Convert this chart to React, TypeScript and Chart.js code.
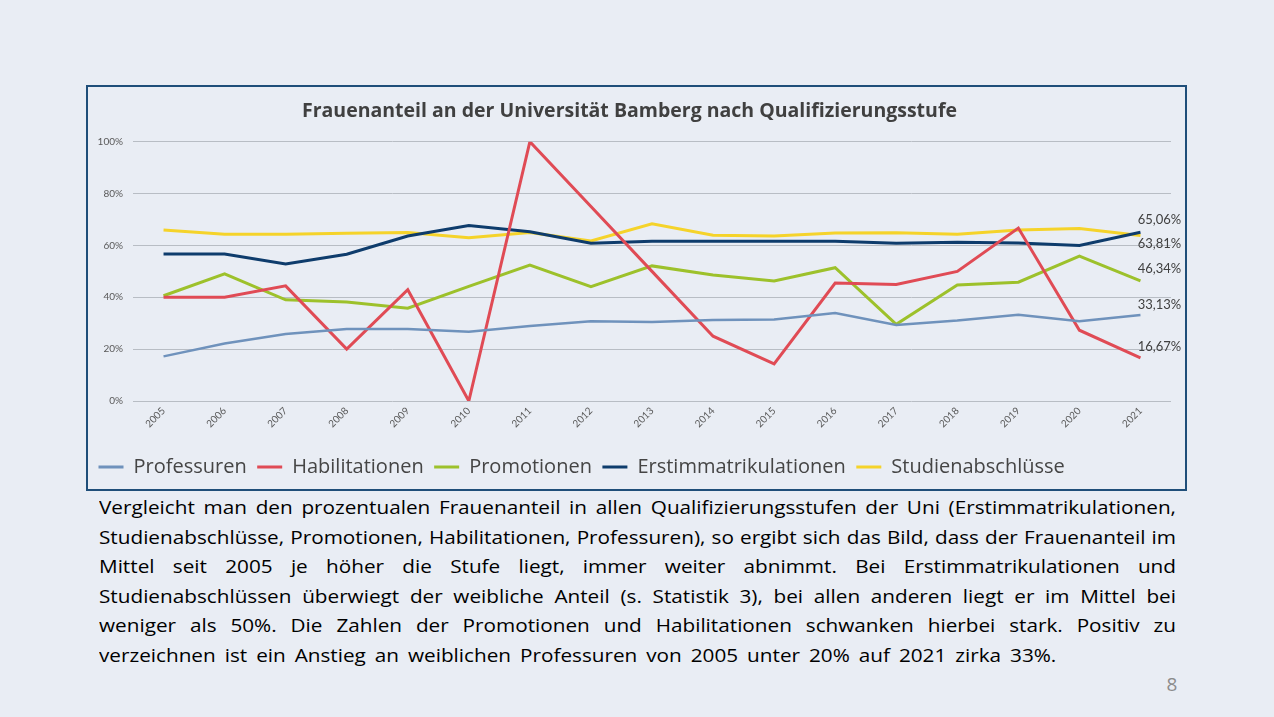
import React, { useEffect, useRef } from "react";
import { Chart, registerables } from "chart.js";

Chart.register(...registerables);

const years = ["2005", "2006", "2007", "2008", "2009", "2010", "2011", "2012", "2013", "2014", "2015", "2016", "2017", "2018", "2019", "2020", "2021"];
const professuren = [17.2, 22.2, 25.8, 27.8, 27.8, 26.7, 28.9, 30.8, 30.5, 31.2, 31.4, 33.9, 29.3, 31.0, 33.3, 30.8, 33.13];
const habilitationen = [40.0, 40.0, 44.4, 20.0, 42.9, 0.0, 100.0, 75.0, 50.0, 25.0, 14.3, 45.5, 44.9, 50.0, 66.7, 27.3, 16.67];
const promotionen = [40.6, 49.0, 39.0, 38.2, 35.8, 44.2, 52.4, 44.1, 52.1, 48.6, 46.3, 51.4, 29.6, 44.7, 45.8, 55.9, 46.34];
const erstimmatrikulationen = [56.7, 56.7, 52.8, 56.6, 63.6, 67.7, 65.3, 60.8, 61.6, 61.6, 61.6, 61.6, 60.8, 61.2, 60.9, 60.0, 65.06];
const studienabschluesse = [65.9, 64.3, 64.3, 64.7, 65.0, 63.0, 65.0, 61.7, 68.3, 63.9, 63.6, 64.8, 64.9, 64.3, 65.9, 66.5, 63.81];
const seriesNames = ["Professuren", "Habilitationen", "Promotionen", "Erstimmatrikulationen", "Studienabschlüsse"];
const yTickValues = [0, 20, 40, 60, 80, 100];

const chartTitle = "Frauenanteil an der Universität Bamberg nach Qualifizierungsstufe";
const paragraphLines = [
  "Vergleicht man den prozentualen Frauenanteil in allen Qualifizierungsstufen der Uni (Erstimmatrikulationen,",
  "Studienabschlüsse, Promotionen, Habilitationen, Professuren), so ergibt sich das Bild, dass der Frauenanteil im",
  "Mittel seit 2005 je höher die Stufe liegt, immer weiter abnimmt. Bei Erstimmatrikulationen und",
  "Studienabschlüssen überwiegt der weibliche Anteil (s. Statistik 3), bei allen anderen liegt er im Mittel bei",
  "weniger als 50%. Die Zahlen der Promotionen und Habilitationen schwanken hierbei stark. Positiv zu",
  "verzeichnen ist ein Anstieg an weiblichen Professuren von 2005 unter 20% auf 2021 zirka 33%.",
];
const pageNumber = "8";

// styles
const FONT = "'Open Sans', Lato, sans-serif";
const SMALL_FONT = "Lato, 'Open Sans', sans-serif";
const colors = ["#6F92BC", "#E04B55", "#9DC12B", "#0E3C6C", "#F5D32A"];
const lineWidths = [2.5, 3, 3, 3, 3];
const endLabelDy = [-10, -11, -12, -12, 8];
const endLabelDx = 19;
const PARA_STRETCH = 1.12;
const PARA_WIDTH = 1077;
const LAST_LINE_WORD_SPACING = 3.2;

const endLabelPlugin = {
  id: "endLabels",
  afterDatasetsDraw(chart: any) {
    const ctx = chart.ctx;
    ctx.save();
    ctx.font = `13px ${SMALL_FONT}`;
    ctx.fillStyle = "#404040";
    ctx.textAlign = "center";
    ctx.textBaseline = "middle";
    chart.data.datasets.forEach((ds: any, i: number) => {
      const meta = chart.getDatasetMeta(i);
      const pt = meta.data[meta.data.length - 1];
      const v = ds.data[ds.data.length - 1];
      ctx.fillText(v.toFixed(2).replace(".", ",") + "%", pt.x + endLabelDx, pt.y + endLabelDy[i]);
    });
    ctx.restore();
  },
};

export default function App() {
  const ref = useRef<HTMLCanvasElement | null>(null);

  useEffect(() => {
    if (!ref.current) return;
    const seriesData = [professuren, habilitationen, promotionen, erstimmatrikulationen, studienabschluesse];
    const chart = new Chart(ref.current, {
      type: "line",
      data: {
        labels: years,
        datasets: seriesNames.map((name, i) => ({
          label: name,
          data: seriesData[i],
          borderColor: colors[i],
          backgroundColor: colors[i],
          borderWidth: lineWidths[i],
          pointRadius: 0,
          tension: 0,
          fill: false,
        })),
      },
      options: {
        responsive: false,
        animation: false,
        layout: { padding: { left: 0, right: 14, top: 0, bottom: 2 } },
        plugins: {
          tooltip: { enabled: false },
          title: {
            display: true,
            text: chartTitle,
            color: "#404040",
            font: { family: FONT, size: 19.5, weight: "bold" },
            padding: { top: 12.8, bottom: 18.5 },
          },
          legend: {
            position: "bottom",
            align: "start",
            labels: {
              usePointStyle: true,
              pointStyle: "line",
              pointStyleWidth: 25,
              padding: 10.5,
              color: "#454545",
              font: { family: FONT, size: 20 },
              generateLabels: (c: any) =>
                c.data.datasets.map((ds: any, i: number) => ({
                  text: ds.label,
                  fillStyle: ds.borderColor,
                  strokeStyle: ds.borderColor,
                  lineWidth: 3,
                  pointStyle: "line",
                  hidden: false,
                  datasetIndex: i,
                  fontColor: "#454545",
                })),
            },
          },
        },
        scales: {
          x: {
            offset: true,
            grid: { display: false, drawTicks: false },
            border: { display: false },
            ticks: {
              autoSkip: false,
              maxRotation: 45,
              minRotation: 45,
              padding: 4,
              color: "#595959",
              font: { family: SMALL_FONT, size: 10 },
            },
            afterFit: (s: any) => {
              s.height = 45.5;
            },
          },
          y: {
            min: 0,
            max: 100,
            afterBuildTicks: (s: any) => {
              s.ticks = yTickValues.map((v) => ({ value: v }));
            },
            grid: { color: "#B8BDC4", lineWidth: 1, drawTicks: false },
            border: { display: false },
            ticks: {
              padding: 10,
              color: "#595959",
              font: { family: SMALL_FONT, size: 10 },
              callback: (v: any) => v + "%",
            },
            afterFit: (s: any) => {
              s.width = 45;
            },
          },
        },
      },
      plugins: [endLabelPlugin],
    });
    return () => chart.destroy();
  }, []);

  const lastIdx = paragraphLines.length - 1;

  return (
    <div
      style={{
        position: "absolute",
        left: 0,
        top: 0,
        width: 1274,
        height: 717,
        background: "#E9EDF4",
        fontFamily: FONT,
        overflow: "hidden",
      }}
    >
      <div
        style={{
          position: "absolute",
          left: 86,
          top: 85,
          width: 1101,
          height: 406,
          border: "2px solid #1F4E79",
          boxSizing: "border-box",
        }}
      >
        <canvas ref={ref} width={1097} height={402} style={{ display: "block", width: 1097, height: 402 }} />
      </div>
      <div
        style={{
          position: "absolute",
          left: 99,
          top: 492,
          width: PARA_WIDTH / PARA_STRETCH,
          color: "#000",
          fontSize: 18.5,
          transform: `scaleX(${PARA_STRETCH})`,
          transformOrigin: "0 0",
        }}
      >
        {paragraphLines.map((line, i) => (
          <div
            key={i}
            style={{
              height: 29.6,
              lineHeight: "29.6px",
              textAlign: i === lastIdx ? "left" : "justify",
              textAlignLast: i === lastIdx ? "left" : "justify",
              wordSpacing: i === lastIdx ? LAST_LINE_WORD_SPACING : 0,
              whiteSpace: "nowrap",
            }}
          >
            {line}
          </div>
        ))}
      </div>
      <div
        style={{
          position: "absolute",
          left: 1160,
          top: 672,
          width: 24,
          textAlign: "center",
          lineHeight: "24px",
          fontSize: 19,
          color: "#8C8C8C",
        }}
      >
        {pageNumber}
      </div>
    </div>
  );
}
